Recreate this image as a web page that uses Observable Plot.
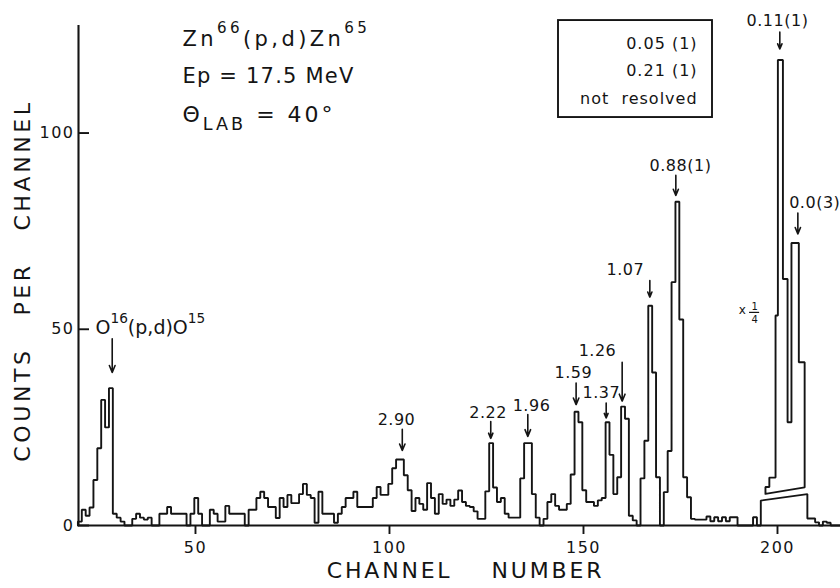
<!DOCTYPE html>
<html><head><meta charset="utf-8">
<script src="https://cdn.jsdelivr.net/npm/d3@7"></script>
<script src="https://cdn.jsdelivr.net/npm/@observablehq/plot@0.6"></script>
<style>
html,body{margin:0;padding:0;background:#fff;}
#chart svg{display:block;}
svg text{white-space:pre;}
g[aria-label="x-axis tick label"] text, g[aria-label="y-axis tick label"] text{letter-spacing:1.5px;}
g[aria-description="axis-title-x"] text{letter-spacing:2.8px;}
g[aria-description="axis-title-y"] text{letter-spacing:3.6px;}
g[aria-description="line1"] text{letter-spacing:3.4px;}
g[aria-description="line2"] text{letter-spacing:1.2px;}
g[aria-description="line3"] text{letter-spacing:3px;}
g[aria-description="peak-label"] text{letter-spacing:0.5px;}
g[aria-description="legend-text"] text{letter-spacing:1px;}
</style></head>
<body><div id="chart"></div>
<script>
// ---------------- data ----------------
// counts per channel, channels 20..195
const spectrumStart = 20;
const spectrum = [
  1, 4, 2.5, 4.6, 11.6, 19.7, 32, 25, 35, 3,          // 20-29
  2, 1, 0, 0, 1.7, 3, 2, 1.5, 2, 0,                   // 30-39
  0, 3, 3, 4.7, 3, 3, 3, 3, 0, 3,                     // 40-49
  7, 3, 0, 0, 4, 3, 1, 1, 5, 3,                       // 50-59
  3, 3, 3, 0, 4, 4, 7, 8.6, 7, 4.7,                   // 60-69
  4.7, 1.9, 7, 4.7, 7.8, 5.7, 5.7, 8, 10.6, 7.8,      // 70-79
  7, 0.7, 8.6, 3, 3, 3, 0.7, 3, 4.7, 7,               // 80-89
  7, 8.6, 4.7, 4.7, 4.7, 4.7, 7, 9.8, 7.8, 7.8,       // 90-99
  10.6, 14.6, 16.8, 16.8, 12.8, 9, 3.7, 7, 5.5, 4,    // 100-109
  10.8, 7, 3, 8, 5.5, 6.6, 5, 6.6, 8.9, 6,            // 110-119
  5, 4.7, 3.6, 1.7, 1.7, 8.7, 21, 9.7, 6, 7,          // 120-129
  3, 2, 2, 2, 12, 21, 21, 8, 2, 0,                    // 130-139
  1.7, 6, 8, 5, 4, 4, 5.5, 13, 29, 26.3,              // 140-149
  9, 6, 6, 5, 6.4, 7, 26.3, 18, 8, 12.3,              // 150-159
  30.3, 27.2, 2.5, 1.3, 0, 12, 21.6, 56, 39, 12.3,    // 160-169
  0, 8.5, 19, 62, 82.5, 52.5, 12.3, 7.2, 1.7, 1.5,    // 170-179
  1.5, 1.5, 2.3, 1.1, 2.1, 1.1, 2.1, 1.1, 2.1, 2.1,   // 180-189
  0, 0, 0, 0, 2.1, 0                                  // 190-195
];
// channels 196..207 drawn as one sloping block (true counts under the x1/4 trace)
const blockChannels = [196, 207];
const blockCounts = [6.35, 8.0];
// channels 208..216
const tailStart = 208;
const tail = [1.8, 1.8, 0.8, 0, 1, 0.7, 0, 0, 0];

// x 1/4 trace: step edges (channel), level between edges, sloping base at both ends
const quarterEdges  = [196.9, 197.9, 199.5, 200.1, 201.4, 202.6, 203.6, 205.5, 207.0];
const quarterCounts = [9.8, 12.2, 53.5, 118.6, 62.8, 26.3, 72, 41.6];
const quarterBase   = [8.05, 9.7];

// peak labels
const peakLabels   = ["2.90", "2.22", "1.96", "1.59", "1.37", "1.26", "1.07", "0.88(1)", "0.11(1)", "0.0(3)"];
const peakChannels = [103.3, 126.1, 135.65, 148.1, 155.85, 159.97, 167.1, 173.8, 200.6, 205.25];
const oxygenLabel = "O^{16}(p,d)O^{15}";
const oxygenChannel = 28.54;

const legendLines = ["0.05 (1)", "0.21 (1)", "not  resolved"];
const infoLines = ["Zn^{66}(p,d)Zn^{65}", "Ep = 17.5 MeV", "Θ_{LAB} = 40°"];

const xTicks = [50, 100, 150, 200];
const yTicks = [0, 50, 100];
const xTitle = "CHANNEL    NUMBER";
const yTitle = "COUNTS   PER   CHANNEL";

// ---------------- layout (positions in channel / count units) ----------------
const xDomain = [19.85, 216.24];
const yDomain = [0, 127.4];
const arrowFrom = [24.5, 26.5, 28.3, 36.3, 31.2, 41.6, 62.4, 89.2, 125.7, 79.6];
const arrowTo   = [19.1, 22.2, 22.7, 30.8, 27.4, 31.7, 58.2, 84.1, 121.4, 74.3];
const labelX    = [101.8, 125.4, 136.6, 147.4, 154.6, 153.6, 160.8, 175.0, 200.0, 209.6];
const labelY    = [25.5, 27.5, 29.3, 37.7, 32.6, 43.1, 63.9, 90.2, 127.4, 81.0];
const oxygenArrow = [47.6, 39.0];
const oxygenLabelPos = [24.23, 48.9];
const legendBox = {x1: 143.56, x2: 183.25, y1: 103.95, y2: 128.66};
const legendTextX = 179.4;
const legendTextY = [121.3, 114.6, 107.5];

// ---------------- build ----------------
const edge = c => c - 0.3;  // channel c occupies [c-0.3, c+0.7]
const hist = [{x: edge(spectrumStart), y: 0}];
spectrum.forEach((n, i) => {
  const c = spectrumStart + i;
  hist.push({x: edge(c), y: n}, {x: edge(c) + 1, y: n});
});
hist.push({x: edge(blockChannels[0]), y: blockCounts[0]}, {x: edge(blockChannels[1]) + 1, y: blockCounts[1]});
tail.forEach((n, i) => {
  const c = tailStart + i;
  hist.push({x: edge(c), y: n}, {x: edge(c) + 1, y: n});
});

const quarter = [{x: quarterEdges[0], y: quarterBase[0]}];
quarterCounts.forEach((n, i) => quarter.push({x: quarterEdges[i], y: n}, {x: quarterEdges[i + 1], y: n}));
quarter.push({x: quarterEdges[quarterEdges.length - 1], y: quarterBase[1]}, {x: quarterEdges[0], y: quarterBase[0]});

const peaks = peakLabels.map((label, i) => ({label, x: peakChannels[i], from: arrowFrom[i], to: arrowTo[i], lx: labelX[i], ly: labelY[i]}));

const ink = "#141414";
const font = "DejaVu Sans";

const chart = Plot.plot({
  width: 840, height: 588,
  marginLeft: 78, marginRight: 0, marginTop: 25, marginBottom: 63,
  style: {fontFamily: font, color: ink, background: "#fff", overflow: "visible"},
  x: {domain: xDomain},
  y: {domain: yDomain},
  marks: [
    Plot.ruleY([0], {stroke: ink, strokeWidth: 2.1}),
    Plot.ruleX([xDomain[0]], {stroke: ink, strokeWidth: 2.1}),
    Plot.axisX({ticks: xTicks, tickSize: 9, tickPadding: 7, fontSize: 16, label: null, strokeWidth: 1.9, tickFormat: d => String(d)}),
    Plot.axisY({ticks: yTicks, tickSize: -11, tickPadding: 15, fontSize: 16, label: null, strokeWidth: 1.9, tickFormat: d => String(d)}),
    Plot.text([xTitle], {frameAnchor: "bottom", textAnchor: "middle", dy: 52, dx: 6, fontSize: 22, ariaDescription: "axis-title-x", fill: ink}),
    Plot.text([yTitle], {frameAnchor: "left", textAnchor: "middle", rotate: -90, dx: -56, dy: 5, fontSize: 22, ariaDescription: "axis-title-y", fill: ink}),
    Plot.line(hist, {x: "x", y: "y", stroke: ink, strokeWidth: 1.9, strokeLinejoin: "miter"}),
    Plot.line(quarter, {x: "x", y: "y", stroke: ink, strokeWidth: 1.9, strokeLinejoin: "miter"}),
    Plot.arrow(peaks, {x1: "x", x2: "x", y1: "from", y2: "to", stroke: ink, strokeWidth: 1.6, headLength: 7, headAngle: 45}),
    Plot.text(peaks, {x: "lx", y: "ly", text: "label", lineAnchor: "bottom", fontSize: 16, ariaDescription: "peak-label", fill: ink}),
    Plot.arrow([oxygenLabel], {x1: oxygenChannel, x2: oxygenChannel, y1: oxygenArrow[0], y2: oxygenArrow[1], stroke: ink, strokeWidth: 1.6, headLength: 7, headAngle: 45}),
    Plot.text([oxygenLabel], {x: oxygenLabelPos[0], y: oxygenLabelPos[1], textAnchor: "start", lineAnchor: "bottom", fontSize: 19, fill: ink}),
    Plot.rect([legendBox], {x1: "x1", x2: "x2", y1: "y1", y2: "y2", fill: "none", stroke: ink, strokeWidth: 1.9}),
    Plot.text(legendLines, {x: legendTextX, y: (d, i) => legendTextY[i], textAnchor: "end", lineAnchor: "bottom", fontSize: 16, ariaDescription: "legend-text", fill: ink}),
    Plot.text([infoLines[0]], {frameAnchor: "top-left", textAnchor: "start", dx: 104, dy: 20, lineAnchor: "bottom", fontSize: 21, ariaDescription: "line1", fill: ink}),
    Plot.text([infoLines[1]], {frameAnchor: "top-left", textAnchor: "start", dx: 104, dy: 57, lineAnchor: "bottom", fontSize: 21, ariaDescription: "line2", fill: ink}),
    Plot.text([infoLines[2]], {frameAnchor: "top-left", textAnchor: "start", dx: 104, dy: 96, lineAnchor: "bottom", fontSize: 22, ariaDescription: "line3", fill: ink}),
    Plot.text(["x"], {x: 190.9, y: 53.8, lineAnchor: "bottom", fontSize: 12, fill: ink}),
    Plot.text(["1"], {x: 194.1, y: 54.8, lineAnchor: "bottom", fontSize: 10, fill: ink}),
    Plot.text(["4"], {x: 194.1, y: 51.7, lineAnchor: "bottom", fontSize: 10, fill: ink}),
    Plot.ruleY([54.3], {x1: 192.8, x2: 195.4, stroke: ink, strokeWidth: 1.2})
  ]
});
document.getElementById("chart").appendChild(chart);

// superscript / subscript markup ^{..} and _{..} -> tspans
chart.querySelectorAll("text").forEach(t => {
  const s = t.textContent;
  if (!/[\^_]\{/.test(s)) return;
  const fs = parseFloat(getComputedStyle(t).fontSize) || 16;
  while (t.firstChild) t.removeChild(t.firstChild);
  const re = /([\^_])\{([^}]*)\}|([^\^_]+)/g;
  let m, shift = 0;
  while ((m = re.exec(s))) {
    const ts = document.createElementNS("http://www.w3.org/2000/svg", "tspan");
    let target;
    if (m[3] !== undefined) { target = 0; ts.textContent = m[3]; }
    else if (m[1] === "^") { target = -0.58 * fs; ts.textContent = m[2]; ts.setAttribute("font-size", 0.72 * fs); }
    else { target = 0.38 * fs; ts.textContent = m[2]; ts.setAttribute("font-size", 0.8 * fs); }
    const d = target - shift;
    if (d) ts.setAttribute("dy", d);
    shift = target;
    t.appendChild(ts);
  }
});
</script>
</body></html>
